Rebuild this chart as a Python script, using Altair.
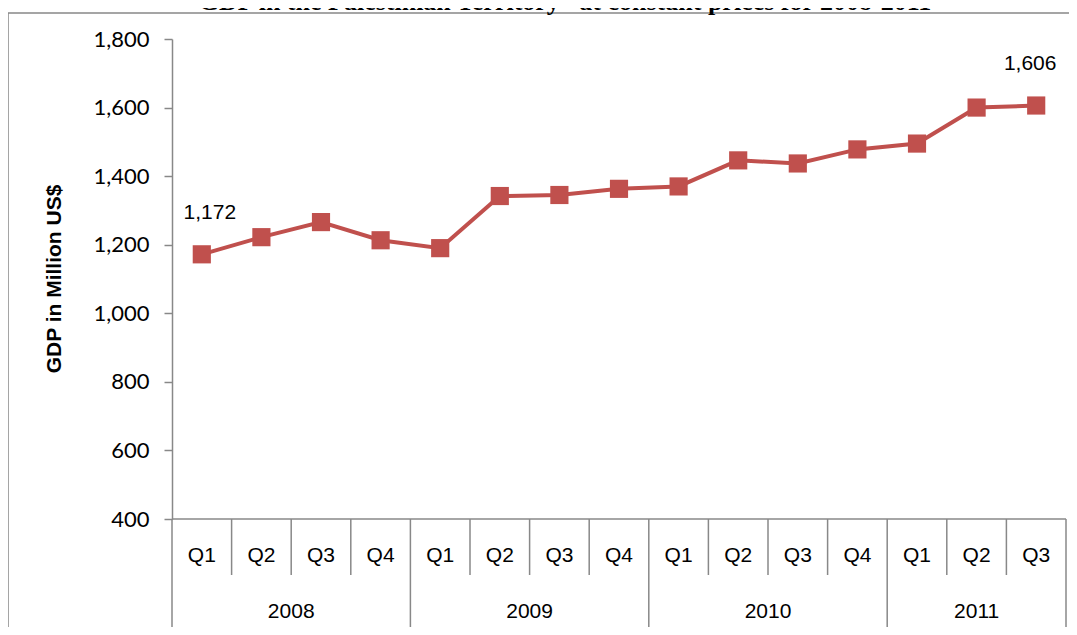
import altair as alt
import pandas as pd

# ---- data ----
quarters = ["Q1", "Q2", "Q3", "Q4", "Q1", "Q2", "Q3", "Q4",
            "Q1", "Q2", "Q3", "Q4", "Q1", "Q2", "Q3"]
years = ["2008", "2009", "2010", "2011"]
year_quarters = [4, 4, 4, 3]
gdp = [1172, 1222, 1266, 1213, 1190, 1342, 1345, 1363,
       1370, 1446, 1437, 1478, 1495, 1600, 1606]
y_ticks = [400, 600, 800, 1000, 1200, 1400, 1600, 1800]
title_text = "GDP in the Palestinian Territory* at constant prices for 2008-2011"
y_title = "GDP in Million US$"

n = len(gdp)
pos = [i + 0.5 for i in range(n)]
df = pd.DataFrame({"pos": pos, "quarter": quarters, "gdp": gdp})

bounds = [0]
for q in year_quarters:
    bounds.append(bounds[-1] + q)
year_df = pd.DataFrame({"year": years,
                        "center": [(bounds[i] + bounds[i + 1]) / 2 for i in range(len(years))]})
qb_df = pd.DataFrame({"b": [b for b in range(n + 1) if b not in bounds]})
yb_df = pd.DataFrame({"b": bounds})

W, H = 894, 480
RED = "#C0504D"
GRAY = "#888888"
FONT = "Liberation Sans"
xs = alt.Scale(domain=[0, n])
one = alt.Data(values=[{"a": 1}])

base = alt.Chart(df)

line = base.mark_line(color=RED, strokeWidth=4).encode(
    x=alt.X("pos:Q", scale=xs, axis=None),
    y=alt.Y("gdp:Q", scale=alt.Scale(domain=[400, 1800]),
            axis=alt.Axis(values=y_ticks, format=",d", grid=False, tickSize=8,
                          labelPadding=15, domainColor=GRAY, tickColor=GRAY,
                          domainWidth=1.5, tickWidth=1.5,
                          labelFont="Lato", labelFontSize=22, labelColor="black",
                          title=None)),
)
points = base.mark_point(shape="square", filled=True, size=330, color=RED, opacity=1).encode(
    x=alt.X("pos:Q", scale=xs, axis=None),
    y=alt.Y("gdp:Q"),
)
lab_first = base.transform_filter(alt.datum.pos == pos[0]).mark_text(
    dx=8, dy=-41, font=FONT, fontSize=21, color="black", baseline="middle").encode(
    x=alt.X("pos:Q", scale=xs, axis=None), y="gdp:Q", text=alt.Text("gdp:Q", format=",d"))
lab_last = base.transform_filter(alt.datum.pos == pos[-1]).mark_text(
    dx=-6, dy=-42, font=FONT, fontSize=21, color="black", baseline="middle").encode(
    x=alt.X("pos:Q", scale=xs, axis=None), y="gdp:Q", text=alt.Text("gdp:Q", format=",d"))

bottom_line = alt.Chart(one).mark_rule(color=GRAY, strokeWidth=1.5).encode(
    x=alt.value(0), x2=alt.value(W), y=alt.value(H))
q_div = alt.Chart(qb_df).mark_rule(color=GRAY, strokeWidth=1.5).encode(
    x=alt.X("b:Q", scale=xs, axis=None), y=alt.value(H), y2=alt.value(H + 56))
y_div = alt.Chart(yb_df).mark_rule(color=GRAY, strokeWidth=1.5).encode(
    x=alt.X("b:Q", scale=xs, axis=None), y=alt.value(H), y2=alt.value(H + 120))
q_text = base.mark_text(font=FONT, fontSize=21, color="black", baseline="middle").encode(
    x=alt.X("pos:Q", scale=xs, axis=None), y=alt.value(H + 37), text="quarter:N")
y_text = alt.Chart(year_df).mark_text(font=FONT, fontSize=21, color="black", baseline="middle").encode(
    x=alt.X("center:Q", scale=xs, axis=None), y=alt.value(H + 93), text="year:N")

ytitle = alt.Chart(one).mark_text(angle=270, font=FONT, fontSize=21,
                                  fontWeight="bold", color="black", baseline="middle").encode(
    x=alt.value(-117), y=alt.value(H / 2), text=alt.value(y_title))

title = alt.Chart(one).mark_text(font="Liberation Serif", fontSize=26, fontWeight="bold",
                                 color="black", baseline="alphabetic").encode(
    x=alt.value(393), y=alt.value(-29), text=alt.value(title_text))

border = alt.Chart(one).mark_rect(fillOpacity=0, stroke=GRAY, strokeWidth=1.5).encode(
    x=alt.value(-164), x2=alt.value(W + 40), y=alt.value(-26), y2=alt.value(H + 200))

chart = alt.layer(border, title, ytitle, bottom_line, q_div, y_div, q_text, y_text,
                  line, points, lab_first, lab_last).properties(
    width=W, height=H,
    autosize=alt.AutoSizeParams(type="none"),
    padding={"left": 164, "top": 31, "right": 3, "bottom": 108},
    background="white",
).configure_view(strokeWidth=0)

chart.save("out.html", embed_options={"renderer": "svg", "actions": False})
